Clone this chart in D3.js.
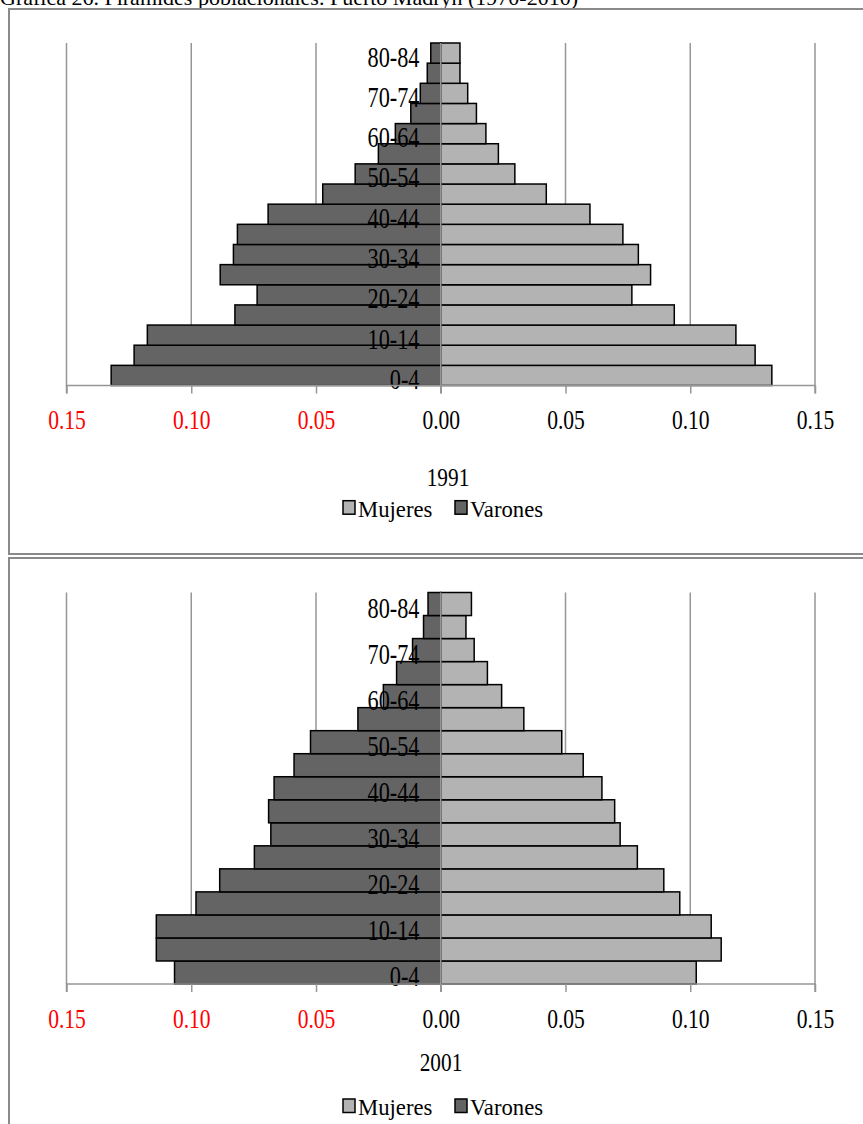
<!DOCTYPE html>
<html>
<head>
<meta charset="utf-8">
<script src="https://cdn.jsdelivr.net/npm/d3@7/dist/d3.min.js"></script>
<style>
  html, body { margin: 0; padding: 0; background: #fff; }
  svg { display: block; font-family: "Liberation Serif", "Times New Roman", serif; }
</style>
</head>
<body>
<svg id="chart" width="863" height="1124"></svg>
<script>
// ---- data ----
const ageGroups = ["0-4","5-9","10-14","15-19","20-24","25-29","30-34","35-39","40-44","45-49","50-54","55-59","60-64","65-69","70-74","75-79","80-84"];
const labeledGroups = ["0-4","10-14","20-24","30-34","40-44","50-54","60-64","70-74","80-84"];

const varones1991 = [0.1321,0.1229,0.1176,0.0825,0.0736,0.0884,0.0831,0.0815,0.0692,0.0473,0.0343,0.0250,0.0182,0.0120,0.0082,0.0054,0.0040];
const mujeres1991 = [0.1327,0.1260,0.1183,0.0936,0.0766,0.0841,0.0792,0.0730,0.0598,0.0423,0.0297,0.0231,0.0181,0.0143,0.0108,0.0077,0.0077];

const varones2001 = [0.1067,0.1140,0.1140,0.0981,0.0886,0.0747,0.0681,0.0690,0.0668,0.0588,0.0522,0.0332,0.0230,0.0177,0.0113,0.0069,0.0051];
const mujeres2001 = [0.1024,0.1124,0.1084,0.0958,0.0894,0.0788,0.0719,0.0697,0.0646,0.0571,0.0485,0.0333,0.0244,0.0187,0.0134,0.0101,0.0123];

const xTicks = [-0.15,-0.10,-0.05,0,0.05,0.10,0.15];
const seriesNames = ["Mujeres","Varones"];
const yearLabels = ["1991","2001"];
const titleText = "Gráfica 26. Pirámides poblacionales. Puerto Madryn (1970-2010)";

// ---- drawing ----
const svg = d3.select("#chart");
const colMuj = "#b3b3b3", colVar = "#646464", gridCol = "#969696";

svg.append("text").attr("x", 0).attr("y", 5).attr("font-size", 22).attr("fill", "#000").text(titleText);

const x = d3.scaleLinear().domain([-0.15, 0.15]).range([66.5, 815]);

const panels = [
  { year: yearLabels[0], varones: varones1991, mujeres: mujeres1991, frame: [9, 9, 900, 545], top: 43, bottom: 385.5, yearX: 448, yearY: 486, legY: 516.7 },
  { year: yearLabels[1], varones: varones2001, mujeres: mujeres2001, frame: [9, 558, 900, 600], top: 592.5, bottom: 984, yearX: 441, yearY: 1070.5, legY: 1115 }
];

panels.forEach(p => {
  const g = svg.append("g");
  g.append("rect").attr("x", p.frame[0]).attr("y", p.frame[1]).attr("width", p.frame[2]).attr("height", p.frame[3])
    .attr("fill", "none").attr("stroke", "#8a8a8a").attr("stroke-width", 2);

  const y = d3.scaleBand().domain(ageGroups.slice().reverse()).range([p.top, p.bottom]).paddingInner(0).paddingOuter(0);

  // gridlines
  g.selectAll(".grid").data(xTicks.filter(d => d !== 0)).enter().append("line")
    .attr("x1", d => x(d)).attr("x2", d => x(d)).attr("y1", p.top).attr("y2", p.bottom)
    .attr("stroke", gridCol).attr("stroke-width", 1.5);

  // bars
  g.selectAll(".bv").data(ageGroups).enter().append("rect")
    .attr("x", (d, i) => x(-p.varones[i])).attr("y", d => y(d))
    .attr("width", (d, i) => x(0) - x(-p.varones[i])).attr("height", y.bandwidth())
    .attr("fill", colVar).attr("stroke", "#000").attr("stroke-width", 1.5);
  g.selectAll(".bm").data(ageGroups).enter().append("rect")
    .attr("x", x(0)).attr("y", d => y(d))
    .attr("width", (d, i) => x(p.mujeres[i]) - x(0)).attr("height", y.bandwidth())
    .attr("fill", colMuj).attr("stroke", "#000").attr("stroke-width", 1.5);

  // center axis line
  g.append("line").attr("x1", x(0)).attr("x2", x(0)).attr("y1", p.top).attr("y2", p.bottom + 8)
    .attr("stroke", gridCol).attr("stroke-width", 1.5);

  // category labels
  labeledGroups.forEach(c => {
    g.append("g").attr("transform", `translate(419.5,${y(c) + y.bandwidth() / 2 + 13.5})`)
      .append("text").attr("transform", "scale(0.755,1)").attr("text-anchor", "end")
      .attr("font-size", 29.5).attr("fill", "#000").text(c);
  });

  // x axis
  const ax = g.append("g").attr("transform", `translate(0,${p.bottom})`)
    .call(d3.axisBottom(x).tickValues(xTicks).tickSize(8).tickFormat(d => Math.abs(d).toFixed(2)));
  ax.select(".domain").attr("stroke", gridCol).attr("stroke-width", 1.5).attr("d", `M${x(-0.15)},8V0H${x(0.15)}V8`);
  ax.selectAll(".tick line").attr("stroke", gridCol).attr("stroke-width", 1.5);
  ax.selectAll(".tick text").attr("y", 44).attr("dy", null).attr("font-size", 28)
    .attr("font-family", "Liberation Serif").attr("transform", "scale(0.77,1)")
    .attr("fill", d => d < 0 ? "#ff0000" : "#000");

  // year label
  g.append("g").attr("transform", `translate(${p.yearX},${p.yearY})`)
    .append("text").attr("transform", "scale(0.82,1)").attr("text-anchor", "middle")
    .attr("font-size", 26).attr("fill", "#000").text(p.year);

  // legend
  const legItems = [
    { name: seriesNames[0], color: colMuj, sx: 343, tx: 358 },
    { name: seriesNames[1], color: colVar, sx: 455, tx: 470 }
  ];
  legItems.forEach(l => {
    g.append("rect").attr("x", l.sx).attr("y", p.legY - 16).attr("width", 12).attr("height", 13.5)
      .attr("fill", l.color).attr("stroke", "#000").attr("stroke-width", 1.5);
    g.append("text").attr("x", l.tx).attr("y", p.legY).attr("font-size", 22.7).attr("fill", "#000").text(l.name);
  });
});
</script>
</body>
</html>
